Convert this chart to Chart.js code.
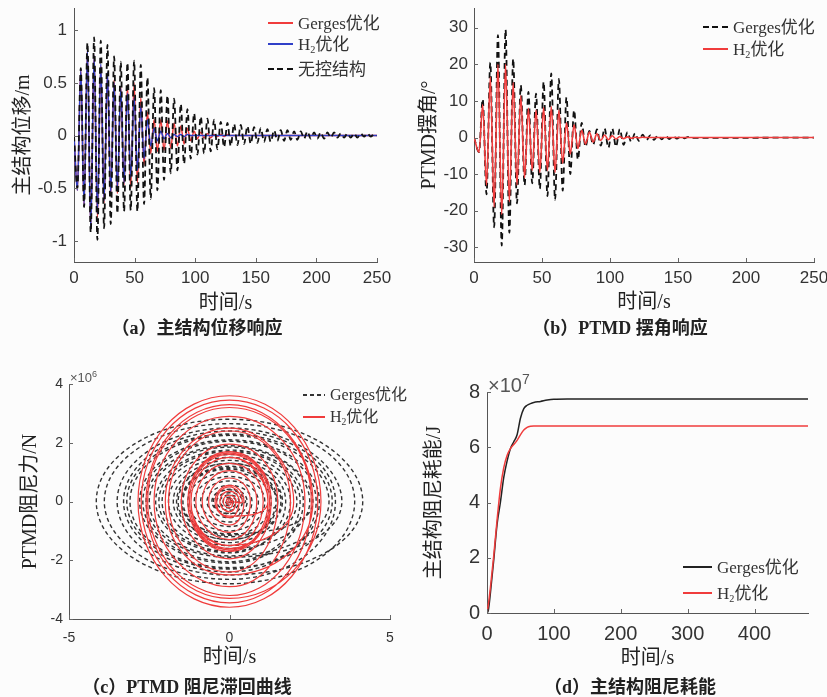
<!DOCTYPE html>
<html><head><meta charset="utf-8">
<script src="https://cdn.jsdelivr.net/npm/chart.js@4.4.1/dist/chart.umd.min.js"></script>
<style>
html,body{margin:0;padding:0;background:#fcfcfc;overflow:hidden;width:827px;height:697px;}
#fig{position:relative;width:827px;height:697px;}
canvas{position:absolute;}
.row{position:absolute;height:20px;display:flex;align-items:center;white-space:nowrap;
 font-family:"Liberation Serif","Noto Sans CJK SC",serif;font-size:17px;color:#333;line-height:1;}
.sw{display:inline-block;height:1.6px;margin-right:5px;flex:none;}
.row .t{display:inline-block;}
.row sub{font-size:0.6em;vertical-align:-0.3em;line-height:0;}
.cap{position:absolute;transform:translate(-50%,-50%);font-family:"Liberation Serif","Noto Sans CJK SC",serif;
 font-weight:bold;font-size:18px;color:#222;white-space:nowrap;line-height:1;}
.exp{position:absolute;font-family:"Liberation Sans",Arial,sans-serif;color:#555;white-space:nowrap;line-height:1;}
.exp sup{font-size:0.7em;vertical-align:0.55em;}
</style></head>
<body>
<div id="fig">
<canvas id="ca" width="400" height="322" style="left:0;top:0"></canvas>
<canvas id="cb" width="427" height="322" style="left:400px;top:0"></canvas>
<canvas id="cc" width="410" height="340" style="left:0;top:340px"></canvas>
<canvas id="cd" width="417" height="340" style="left:410px;top:340px"></canvas>

<div class="row" style="left:268px;top:13px"><span class="sw" style="width:25px;background:#f03c3c"></span><span class="t">Gerges优化</span></div>
<div class="row" style="left:268px;top:34px"><span class="sw" style="width:25px;background:#3040c8"></span><span class="t">H<sub>2</sub>优化</span></div>
<div class="row" style="left:268px;top:59px"><span class="sw" style="width:25px;height:2px;background:repeating-linear-gradient(90deg,#111 0 6px,transparent 6px 9.5px)"></span><span class="t">无控结构</span></div>

<div class="row" style="left:703px;top:17px"><span class="sw" style="width:25px;height:2px;background:repeating-linear-gradient(90deg,#111 0 6px,transparent 6px 9.5px)"></span><span class="t">Gerges优化</span></div>
<div class="row" style="left:703px;top:39px"><span class="sw" style="width:25px;background:#f03c3c"></span><span class="t">H<sub>2</sub>优化</span></div>

<div class="row" style="left:303px;top:385px;font-size:16px"><span class="sw" style="width:22px;height:1.6px;background:repeating-linear-gradient(90deg,#333 0 4px,transparent 4px 7px)"></span><span class="t">Gerges优化</span></div>
<div class="row" style="left:303px;top:407px;font-size:16px"><span class="sw" style="width:22px;height:1.2px;background:#f03c3c"></span><span class="t">H<sub>2</sub>优化</span></div>

<div class="row" style="left:683px;top:557px"><span class="sw" style="width:29px;background:#222"></span><span class="t">Gerges优化</span></div>
<div class="row" style="left:683px;top:583px"><span class="sw" style="width:29px;background:#f03c3c"></span><span class="t">H<sub>2</sub>优化</span></div>

<div class="exp" style="left:70px;top:370px;font-size:13px">×10<sup>6</sup></div>
<div class="exp" style="left:488px;top:372px;font-size:20px">×10<sup>7</sup></div>

<div class="cap" style="left:197px;top:328px">（a）主结构位移响应</div>
<div class="cap" style="left:620px;top:328px">（b）PTMD 摆角响应</div>
<div class="cap" style="left:187px;top:687px">（c）PTMD 阻尼滞回曲线</div>
<div class="cap" style="left:630px;top:687px">（d）主结构阻尼耗能</div>
</div>
<script>
// ---------- (a) main structure displacement, m (extrema) ----------
const timeA = [0, 2.8, 5.6, 8.3, 11.1, 13.8, 16.6, 19.3, 22.1, 24.8, 27.6, 30.3, 33.1, 35.8, 38.6, 41.3, 44.1, 46.8, 49.6, 52.3, 55.1, 57.8, 60.6, 63.3, 66.1, 68.8, 71.6, 74.3, 77.1, 79.8, 82.6, 85.3, 88.1, 90.8, 93.6, 96.3, 99.1, 101.8, 104.6, 107.3, 110.1, 112.8, 115.6, 118.3, 121.1, 123.8, 126.6, 129.3, 132.1, 134.8, 137.6, 140.3, 143.1, 145.8, 148.6, 151.3, 154.1, 156.8, 159.6, 162.3, 165.1, 167.8, 170.6, 173.3, 176.1, 178.8, 181.6, 184.3, 187.1, 189.8, 192.6, 195.3, 198.1, 200.8, 203.6, 206.3, 209.1, 211.8, 214.6, 217.3, 220.1, 222.8, 225.6, 228.3, 231.1, 233.8, 236.6, 239.3, 242.1, 244.8, 247.6, 250];
const uncontrolledA = [0,
 -0.50, 0.64, -0.68, 0.88, -0.92, 0.93, -0.99, 0.90, -0.88, 0.86,
 -0.84, 0.75, -0.74, 0.70, -0.72, 0.69, -0.71, 0.71, -0.72, 0.67,
 -0.65, 0.55, -0.60, 0.45, -0.52, 0.43, -0.42, 0.38, -0.36, 0.35,
 -0.33, 0.30, -0.27, 0.25, -0.22, 0.21, -0.18, 0.18, -0.17, 0.16,
 -0.15, 0.15, -0.13, 0.13, -0.11, 0.12, -0.10, 0.11, -0.09, 0.10,
 -0.08, 0.09, -0.08, 0.08, -0.07, 0.07, -0.06, 0.06, -0.06, 0.05,
 -0.05, 0.05, -0.05, 0.05, -0.04, 0.04, -0.04, 0.04, -0.03, 0.04,
 -0.03, 0.03, -0.03, 0.03, -0.03, 0.03, -0.02, 0.03, -0.02, 0.02,
 -0.02, 0.02, -0.02, 0.02, -0.02, 0.02, -0.01, 0.02, -0.01, 0.01,
 0];
const h2A = [0,
 -0.52, 0.63, -0.66, 0.81, -0.89, 0.76, -0.74, 0.68, -0.62, 0.60,
 -0.55, 0.50, -0.50, 0.45, -0.45, 0.40, -0.40, 0.36, -0.33, 0.28,
 -0.22, 0.15, -0.10, 0.07, -0.05, 0.04, -0.03, 0.02, -0.02, 0.01,
 -0.01, 0.01, -0.01, 0.01, 0, 0, 0, 0, 0, 0,
 0, 0, 0, 0, 0, 0, 0, 0, 0, 0,
 0, 0, 0, 0, 0, 0, 0, 0, 0, 0,
 0, 0, 0, 0, 0, 0, 0, 0, 0, 0,
 0, 0, 0, 0, 0, 0, 0, 0, 0, 0,
 0, 0, 0, 0, 0, 0, 0, 0, 0, 0,
 0];
const gergesA = [0,
 -0.52, 0.63, -0.67, 0.80, -0.88, 0.76, -0.78, 0.66, -0.64, 0.58,
 -0.57, 0.53, -0.55, 0.46, -0.47, 0.48, -0.50, 0.50, -0.45, 0.36,
 -0.28, 0.22, -0.17, 0.15, -0.15, 0.15, -0.14, 0.14, -0.12, 0.12,
 -0.10, 0.09, -0.08, 0.07, -0.05, 0.04, -0.03, 0.03, -0.02, 0.02,
 -0.02, 0.01, -0.01, 0.01, -0.01, 0.01, 0, 0, 0, 0,
 0, 0, 0, 0, 0, 0, 0, 0, 0, 0,
 0, 0, 0, 0, 0, 0, 0, 0, 0, 0,
 0, 0, 0, 0, 0, 0, 0, 0, 0, 0,
 0, 0, 0, 0, 0, 0, 0, 0, 0, 0,
 0];
const xTicksA = [0, 50, 100, 150, 200, 250];
const yTicksA = [-1, -0.5, 0, 0.5, 1];

// ---------- (b) PTMD swing angle, degrees ----------
const timeB = [0, 3.7, 6.4, 9.2, 12.0, 14.8, 17.6, 20.4, 23.2, 26.0, 28.8, 31.6, 34.4, 37.2, 40.0, 42.8, 45.6, 48.4, 51.2, 54.0, 56.8, 59.6, 62.4, 65.2, 68.0, 70.8, 73.6, 76.4, 79.2, 82.0, 84.8, 87.6, 90.4, 93.2, 96.0, 98.8, 101.6, 104.4, 107.2, 110.0, 112.8, 115.6, 118.4, 121.2, 124.0, 126.8, 129.6, 132.4, 135.2, 138.0, 140.8, 143.6, 146.4, 149.2, 152.0, 154.8, 157.6, 160.4, 250];
const gergesB = [0,
 -4, 10.5, -15.5, 20.5, -24.5, 28, -29.5, 29.5, -26, 21.5,
 -18, 14.3, -13, 12.5, -12.5, 12, -14, 15.2, -16, 17.5,
 -17, 16, -14.5, 11, -10, 7.5, -6, 4, -2.5, 1.8,
 -2, 2.2, -2.2, 2.5, -2.8, 2.5, -2.5, 2.3, -2, 1.5,
 -1.2, 1.2, -0.9, 0.8, -0.7, 0.6, -0.6, 0.6, -0.5, 0.5,
 -0.4, 0.4, -0.3, 0.3, -0.2, 0.2, -0.1,
 0];
const h2B = [0,
 -4, 9, -13, 16.5, -19, 20, -21, 20, -17.5, 15,
 -13, 11.5, -11, 8, -9, 7.5, -9.5, 8.2, -9, 8.5,
 -9.5, 7.5, -7, 4, -4.5, 3.5, -3, 2, -1.8, 1.5,
 -1.2, 1, -0.8, 0.7, -0.6, 0.5, -0.4, 0.3, -0.3, 0.2,
 -0.2, 0.1, -0.1, 0.1, 0, 0, 0, 0, 0, 0,
 0, 0, 0, 0, 0, 0, 0,
 0];
const xTicksB = [0, 50, 100, 150, 200, 250];
const yTicksB = [-30, -20, -10, 0, 10, 20, 30];

// ---------- (c) PTMD damping hysteresis: loop amplitudes (x, force ×10^6 N) ----------
const gergesLoopX = [0.5, 1.5, 2.6, 3.5, 4.15, 3.9, 3.3, 2.7, 2.2, 1.9, 2.1, 2.5, 3.1, 3.2, 2.8, 2.3, 1.75, 1.6, 1.5, 1.65, 1.45, 1.3, 1.1, 0.9, 0.7, 0.55, 0.4, 0.3, 0.2, 0.12, 0.06];
const gergesLoopF = [0.4, 1.1, 1.9, 2.5, 2.8, 2.65, 2.4, 2.05, 1.7, 1.5, 1.6, 1.85, 2.25, 2.3, 2.1, 1.75, 1.4, 1.3, 1.2, 1.3, 1.15, 1.0, 0.85, 0.7, 0.55, 0.42, 0.3, 0.22, 0.15, 0.1, 0.05];
const h2LoopX = [0.4, 1.2, 2.0, 2.6, 2.85, 2.75, 2.55, 2.35, 1.9, 1.5, 1.3, 1.25, 1.3, 1.2, 1.05, 0.85, 0.65, 0.45, 0.3, 0.2, 0.1, 0.05];
const h2LoopF = [0.5, 1.5, 2.5, 3.3, 3.6, 3.45, 3.2, 2.9, 2.4, 1.95, 1.7, 1.6, 1.65, 1.5, 1.3, 1.05, 0.8, 0.55, 0.35, 0.22, 0.12, 0.06];
const xTicksC = [-5, 0, 5];
const yTicksC = [-4, -2, 0, 2, 4];

// ---------- (d) main structure damping energy, ×10^7 J ----------
const timeD = [0, 2, 5, 10, 15, 20, 25, 30, 35, 40, 45, 50, 55, 60, 65, 70, 80, 90, 100, 120, 150, 200, 300, 400, 480];
const gergesD = [0, 0.1, 0.7, 1.9, 3.2, 4.0, 4.9, 5.5, 5.95, 6.2, 6.45, 7.05, 7.4, 7.52, 7.58, 7.62, 7.66, 7.71, 7.74, 7.75, 7.75, 7.75, 7.75, 7.75, 7.75];
const h2D = [0, 0.3, 0.9, 2.05, 3.35, 4.5, 5.25, 5.7, 5.95, 6.1, 6.25, 6.45, 6.62, 6.72, 6.76, 6.77, 6.77, 6.77, 6.77, 6.77, 6.77, 6.77, 6.77, 6.77, 6.77];
const xTicksD = [0, 100, 200, 300, 400];
const yTicksD = [0, 2, 4, 6, 8];

// ---------- helpers ----------
const pts = (xs, ys) => xs.map((x, i) => ({x: x, y: ys[i]}));
function loops(ax, af) {
  const p = [{x: 0, y: 0}];
  ax.forEach((a, i) => { p.push({x: a, y: 0}, {x: 0, y: af[i]}, {x: -a, y: 0}, {x: 0, y: -af[i]}); });
  return p;
}
const SERIF = '"Liberation Serif", "Noto Sans CJK SC", serif';
const SANS = '"Liberation Sans", Arial, sans-serif';
function axis(o) {
  return {
    type: 'linear', min: o.min, max: o.max,
    grid: {display: false, drawTicks: false},
    border: {display: true, color: '#555', width: 1},
    ticks: {font: {family: SANS, size: o.fs}, color: '#333', padding: o.pad, autoSkip: false, maxRotation: 0,
            callback: v => String(v)},
    afterBuildTicks: s => { s.ticks = o.ticks.map(v => ({value: v})); },
    afterFit: s => {
      if (o.h) { s.height = o.size; s.paddingLeft = 0; s.paddingRight = 0; }
      else { s.width = o.size; s.paddingTop = 0; s.paddingBottom = 0; }
    },
    title: {display: true, text: o.title, color: '#222', font: {family: SERIF, size: 20},
            padding: o.h ? {top: 0, bottom: o.tp} : {top: o.tp, bottom: 0}}
  };
}
const innerTicks = {
  id: 'innerTicks',
  afterDraw(chart) {
    const {ctx, chartArea: a, scales} = chart;
    ctx.save(); ctx.strokeStyle = '#666'; ctx.lineWidth = 1;
    scales.x.ticks.forEach(t => {
      const px = Math.round(scales.x.getPixelForValue(t.value)) + 0.5;
      ctx.beginPath(); ctx.moveTo(px, a.bottom); ctx.lineTo(px, a.bottom - 4); ctx.stroke();
    });
    scales.y.ticks.forEach(t => {
      const py = Math.round(scales.y.getPixelForValue(t.value)) + 0.5;
      ctx.beginPath(); ctx.moveTo(a.left, py); ctx.lineTo(a.left + 4, py); ctx.stroke();
    });
    ctx.restore();
  }
};
function make(id, type, datasets, pad, xo, yo) {
  return new Chart(document.getElementById(id), {
    type: type,
    data: {datasets: datasets},
    options: {
      responsive: false, animation: false, devicePixelRatio: 1,
      layout: {padding: pad},
      elements: {point: {radius: 0}},
      plugins: {legend: {display: false}, tooltip: {enabled: false}},
      scales: {x: axis(Object.assign({h: true}, xo)), y: axis(yo)}
    },
    plugins: [innerTicks]
  });
}
const RED = '#f03c3c', BLUE = '#3040c8', BLACK = '#111';
const ts = {pointRadius: 0, fill: false, cubicInterpolationMode: 'monotone'};

make('ca', 'line', [
  Object.assign({data: pts(timeA, uncontrolledA), borderColor: BLACK, borderWidth: 1.8, borderDash: [6, 4]}, ts),
  Object.assign({data: pts(timeA, h2A), borderColor: BLUE, borderWidth: 1.5}, ts),
  Object.assign({data: pts(timeA, gergesA), borderColor: RED, borderWidth: 1.5}, ts)
], {left: 0, top: 8, right: 23, bottom: 0},
 {min: 0, max: 250, ticks: xTicksA, fs: 17, pad: 6, size: 60, title: '时间/s', tp: 6},
 {min: -1.2, max: 1.21, ticks: yTicksA, fs: 17, pad: 7, size: 74, title: '主结构位移/m', tp: 12});

make('cb', 'line', [
  Object.assign({data: pts(timeB, h2B), borderColor: RED, borderWidth: 1.6}, ts),
  Object.assign({data: pts(timeB, gergesB), borderColor: BLACK, borderWidth: 1.8, borderDash: [6, 4]}, ts)
], {left: 0, top: 8, right: 13, bottom: 0},
 {min: 0, max: 250, ticks: xTicksB, fs: 17, pad: 6, size: 60, title: '时间/s', tp: 7},
 {min: -34, max: 35.4, ticks: yTicksB, fs: 17, pad: 6, size: 74, title: 'PTMD摆角/°', tp: 17.5});

make('cc', 'scatter', [
  {data: loops(h2LoopX, h2LoopF), showLine: true, tension: 0.55, borderColor: RED, borderWidth: 1.2, pointRadius: 0},
  {data: loops(gergesLoopX, gergesLoopF), showLine: true, tension: 0.55, borderColor: '#333', borderWidth: 1.4, borderDash: [4, 3], pointRadius: 0}
], {left: 0, top: 44, right: 20, bottom: 0},
 {min: -5, max: 5, ticks: xTicksC, fs: 14, pad: 11, size: 61, title: '时间/s', tp: 10},
 {min: -4, max: 4, ticks: yTicksC, fs: 14, pad: 6, size: 69, title: 'PTMD阻尼力/N', tp: 18.5});

make('cd', 'line', [
  Object.assign({data: pts(timeD, h2D), borderColor: RED, borderWidth: 1.5}, ts),
  Object.assign({data: pts(timeD, gergesD), borderColor: '#222', borderWidth: 1.5}, ts)
], {left: 0, top: 52, right: 19, bottom: 0},
 {min: 0, max: 480, ticks: xTicksD, fs: 20, pad: 9, size: 67, title: '时间/s', tp: 9},
 {min: 0, max: 8, ticks: yTicksD, fs: 20, pad: 7, size: 77, title: '主结构阻尼耗能/J', tp: 13});
</script>
</body></html>
